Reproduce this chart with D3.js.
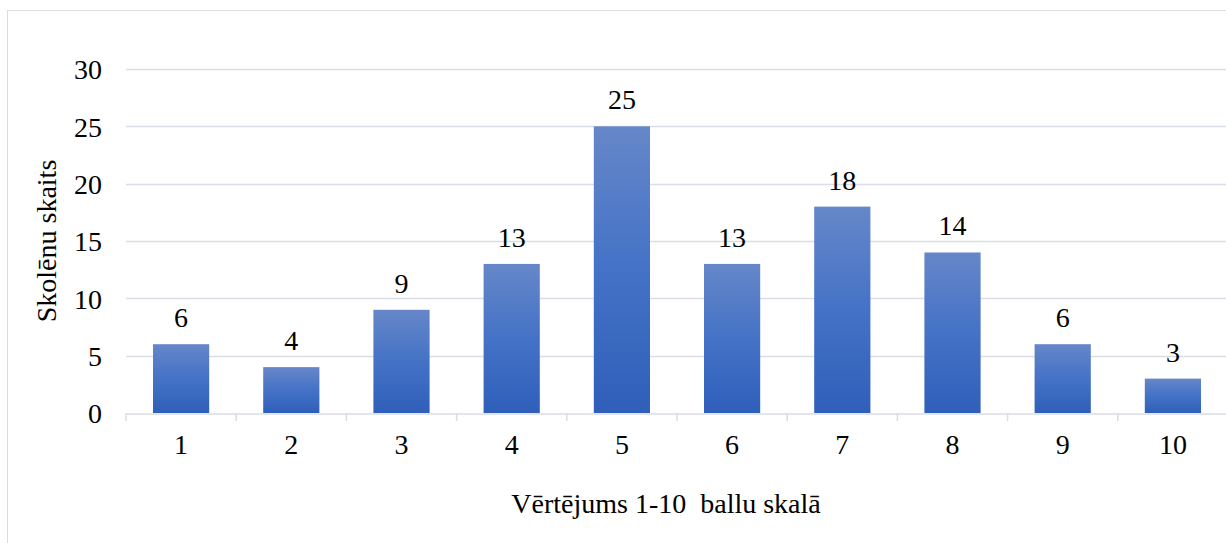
<!DOCTYPE html>
<html><head><meta charset="utf-8">
<script src="https://cdn.jsdelivr.net/npm/d3@7"></script>
<style>body{margin:0;background:#fff;} svg{display:block;}</style>
</head><body>
<svg id="c" width="1226" height="543"></svg>
<script>
const categories = ["1","2","3","4","5","6","7","8","9","10"];
const values = [6,4,9,13,25,13,18,14,6,3];
const yTicks = [0,5,10,15,20,25,30];
const xTitle = "Vērtējums 1-10  ballu skalā";
const yTitle = "Skolēnu skaits";

const svg = d3.select("#c");
const FS = 28;
const FONT = "Liberation Serif, Times New Roman, serif";
const m = {left:126, right:-2, top:69, bottom:130};
const W = 1226, H = 543;
const x = d3.scaleBand().domain(categories).range([m.left, W - m.right]).paddingInner(0.49).paddingOuter(0.245);
const y = d3.scaleLinear().domain([0,30]).range([413, 69]);

svg.append("rect").attr("x",7.5).attr("y",10.5).attr("width",1230).attr("height",540)
  .attr("fill","none").attr("stroke","#d9dde3").attr("stroke-width",1);

const defs = svg.append("defs");
const g = defs.append("linearGradient").attr("id","bg").attr("x1",0).attr("y1",0).attr("x2",0).attr("y2",1);
g.append("stop").attr("offset","0%").attr("stop-color","#6687c9");
g.append("stop").attr("offset","50%").attr("stop-color","#4472c6");
g.append("stop").attr("offset","100%").attr("stop-color","#2f5fb9");

svg.append("g").selectAll("line").data(yTicks.filter(d=>d>0)).join("line")
  .attr("x1", m.left).attr("x2", W).attr("y1", d=>Math.round(y(d))+0.5).attr("y2", d=>Math.round(y(d))+0.5)
  .attr("stroke","#d9dde5").attr("stroke-width",1.5);

const ya = svg.append("g").attr("transform",`translate(${m.left},0)`)
  .call(d3.axisLeft(y).tickValues(yTicks).tickSize(0).tickPadding(24));
ya.select(".domain").remove();
ya.attr("font-family", FONT).attr("font-size", FS);
ya.selectAll("text").attr("fill","#000").attr("dy","0.35em");

const xa = svg.append("g").attr("transform",`translate(0,${Math.round(y(0))+0.5})`)
  .call(d3.axisBottom(x).tickSize(0).tickPadding(21));
xa.attr("font-family", FONT).attr("font-size", FS);
xa.select(".domain").attr("stroke","#d9dde5").attr("stroke-width",1.5);
xa.selectAll("text").attr("fill","#000");

const step = x.step();
const seps = d3.range(categories.length+1).map(i => m.left + i*step);
svg.append("g").selectAll("line").data(seps).join("line")
  .attr("x1",d=>d).attr("x2",d=>d).attr("y1",y(0)).attr("y2",y(0)+8)
  .attr("stroke","#d9dde5").attr("stroke-width",1.5);

svg.append("g").selectAll("rect").data(values).join("rect")
  .attr("x",(d,i)=>x(categories[i])).attr("width",x.bandwidth())
  .attr("y",d=>y(d)).attr("height",d=>y(0)-y(d))
  .attr("fill","url(#bg)");

svg.append("g").attr("font-family", FONT).attr("font-size", FS)
  .selectAll("text").data(values).join("text")
  .attr("x",(d,i)=>x(categories[i])+x.bandwidth()/2).attr("y",d=>y(d)-17)
  .attr("text-anchor","middle").attr("fill","#000")
  .text(d=>d);

svg.append("text").attr("x",666).attr("y",513).attr("text-anchor","middle")
  .attr("font-family", FONT).attr("font-size",FS).attr("fill","#000").style("white-space","pre").text(xTitle);
svg.append("text").attr("transform","translate(56,241) rotate(-90)").attr("text-anchor","middle")
  .attr("font-family", FONT).attr("font-size",FS).attr("fill","#000").text(yTitle);
</script>
</body></html>
